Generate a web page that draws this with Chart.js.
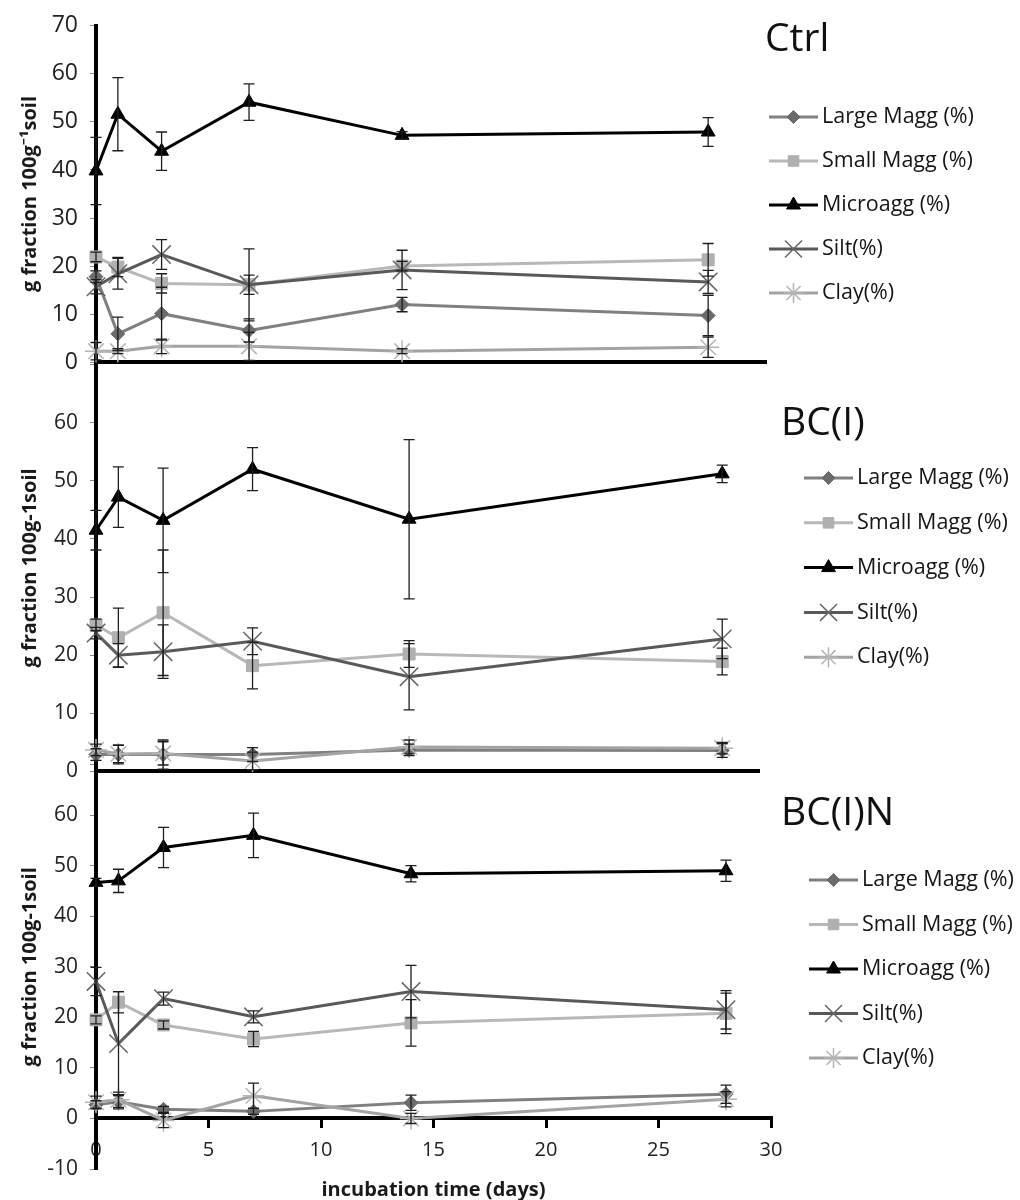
<!DOCTYPE html>
<html>
<head>
<meta charset="utf-8">
<title>Aggregate fractions during incubation</title>
<script src="https://cdn.jsdelivr.net/npm/chart.js"></script>
<style>
  body { margin: 0; background: #fff; }
  #wrap { position: relative; width: 1020px; height: 1200px; }
  canvas { position: absolute; left: 0; }
</style>
</head>
<body>
<div id="wrap">
  <canvas id="ctrl" width="1020" height="388" style="top:0px"></canvas>
  <canvas id="bci" width="1020" height="456" style="top:340px"></canvas>
  <canvas id="bcin" width="1020" height="460" style="top:740px"></canvas>
</div>
<script>
// incubation days (x values, shared by all panels)
const days = [0, 1, 3, 7, 14, 28];
const seriesNames = ['Large Magg (%)', 'Small Magg (%)', 'Microagg (%)', 'Silt(%)', 'Clay(%)'];

// Ctrl
const ctrlLarge = [17.8, 5.9, 10.1, 6.6, 12.0, 9.7];
const ctrlLargeErr = [1.2, 3.5, 5.5, 2.4, 1.5, 4.2];
const ctrlSmall = [21.9, 19.8, 16.4, 16.1, 20.0, 21.3];
const ctrlSmallErr = [1.0, 2.0, 2.0, 2.0, 1.0, 3.4];
const ctrlMicro = [39.8, 51.6, 43.9, 54.1, 47.2, 47.9];
const ctrlMicroErr = [7.0, 7.6, 4.0, 3.8, 0.8, 3.0];
const ctrlSilt = [15.7, 18.4, 22.4, 16.1, 19.2, 16.7];
const ctrlSiltErr = [1.5, 3.2, 3.1, 7.5, 4.1, 2.4];
const ctrlClay = [2.3, 2.3, 3.3, 3.3, 2.3, 3.1];
const ctrlClayErr = [1.8, 0.5, 1.5, 2.9, 0.5, 2.1];

// BC(I)
const bciLarge = [2.9, 2.9, 2.9, 2.9, 3.7, 3.6];
const bciLargeErr = [1.0, 1.6, 2.5, 1.2, 1.0, 1.2];
const bciSmall = [25.2, 23.0, 27.3, 18.2, 20.2, 18.9];
const bciSmallErr = [1.0, 5.1, 10.8, 4.0, 2.3, 2.3];
const bciMicro = [41.5, 47.2, 43.2, 52.0, 43.4, 51.2];
const bciMicroErr = [3.4, 5.2, 9.0, 3.7, 13.7, 1.5];
const bciSilt = [23.8, 20.0, 20.6, 22.4, 16.3, 22.8];
const bciSiltErr = [1.0, 2.0, 4.6, 2.3, 5.7, 3.4];
const bciClay = [3.7, 3.0, 3.1, 1.8, 4.2, 4.0];
const bciClayErr = [1.0, 1.5, 2.0, 1.5, 1.2, 1.0];

// BC(I)N
const bcinLarge = [2.7, 3.3, 1.8, 1.4, 3.1, 4.8];
const bcinLargeErr = [0.8, 1.4, 0.6, 0.6, 1.5, 1.8];
const bcinSmall = [19.5, 23.0, 18.5, 15.7, 18.9, 20.8];
const bcinSmallErr = [0.8, 2.1, 0.8, 1.5, 4.6, 4.0];
const bcinMicro = [46.7, 47.0, 53.6, 56.0, 48.4, 49.0];
const bcinMicroErr = [0.8, 2.3, 4.0, 4.4, 1.6, 2.1];
const bcinSilt = [27.1, 14.8, 23.7, 20.1, 25.1, 21.5];
const bcinSiltErr = [2.8, 10.3, 1.3, 1.2, 5.2, 3.8];
const bcinClay = [3.2, 3.7, -0.4, 4.5, 0.0, 3.8];
const bcinClayErr = [1.2, 1.5, 1.4, 2.5, 1.0, 1.5];

// look of each series (same order as seriesNames)
const seriesStyle = [
  { line: '#808080', point: '#6b6b6b', shape: 'rectRot', r: 7, lr: 6.5, bw: 1, order: 5 },
  { line: '#b8b8b8', point: '#b0b0b0', shape: 'rect', r: 8.5, lr: 7.5, bw: 1, order: 4 },
  { line: '#000000', point: '#000000', shape: 'triangle', r: 8, lr: 8, bw: 1, order: 3 },
  { line: '#595959', point: '#666666', shape: 'crossRot', r: 13, lr: 12, bw: 1.5, order: 2 },
  { line: '#a3a3a3', point: '#b5b5b5', shape: 'star', r: 11, lr: 10, bw: 1.5, order: 1 }
];

const FONT = '"Open Sans", "Noto Sans", sans-serif';

// error bars drawn from each dataset's errors array
const errorBars = {
  id: 'errorBars',
  afterDatasetsDraw(chart) {
    const ctx = chart.ctx;
    const ys = chart.scales.y;
    ctx.save();
    ctx.strokeStyle = '#1e1e1e';
    ctx.lineWidth = 1.3;
    chart.data.datasets.forEach((ds, i) => {
      const meta = chart.getDatasetMeta(i);
      meta.data.forEach((pt, j) => {
        const v = ds.data[j].y, e = ds.errors[j];
        const t = ys.getPixelForValue(v + e), b = ys.getPixelForValue(v - e);
        ctx.beginPath();
        ctx.moveTo(pt.x, t); ctx.lineTo(pt.x, b);
        ctx.moveTo(pt.x - 5.5, t); ctx.lineTo(pt.x + 5.5, t);
        ctx.moveTo(pt.x - 5.5, b); ctx.lineTo(pt.x + 5.5, b);
        ctx.stroke();
      });
    });
    ctx.restore();
  }
};

// panel title + line-with-marker legend on the right, x title for bottom panel
const panelLegend = {
  id: 'panelLegend',
  afterDraw(chart, args, o) {
    const ctx = chart.ctx;
    ctx.save();
    ctx.textBaseline = 'middle';
    ctx.textAlign = 'left';
    ctx.fillStyle = '#111';
    ctx.font = '39px ' + FONT;
    ctx.fillText(o.title, o.titleX, o.titleY);
    ctx.font = '21.5px ' + FONT;
    chart.data.datasets.forEach((ds, i) => {
      const y = o.rowY + i * o.rowGap;
      const st = seriesStyle[i];
      ctx.strokeStyle = st.line;
      ctx.lineWidth = 3;
      ctx.beginPath();
      ctx.moveTo(o.lineX, y); ctx.lineTo(o.lineX + 49, y);
      ctx.stroke();
      ctx.fillStyle = st.point;
      ctx.strokeStyle = st.point;
      ctx.lineWidth = st.bw;
      Chart.helpers.drawPoint(ctx, { pointStyle: st.shape, radius: st.lr, borderWidth: st.bw, rotation: 0 }, o.lineX + 24.5, y);
      ctx.fillStyle = '#151515';
      ctx.fillText(ds.label, o.lineX + 53, y);
    });
    if (o.xTitle) {
      const a = chart.chartArea;
      ctx.font = 'bold 20px ' + FONT;
      ctx.textAlign = 'center';
      ctx.fillStyle = '#1a1a1a';
      ctx.fillText(o.xTitle, (a.left + a.right) / 2, a.bottom + 21);
    }
    ctx.restore();
  }
};

function makeDatasets(means, errs) {
  return means.map((m, i) => {
    const st = seriesStyle[i];
    return {
      label: seriesNames[i],
      data: days.map((d, j) => ({ x: d, y: m[j] })),
      errors: errs[i],
      borderColor: st.line,
      borderWidth: 3,
      pointStyle: st.shape,
      pointRadius: st.r,
      pointBackgroundColor: st.point,
      pointBorderColor: st.point,
      pointBorderWidth: st.bw,
      tension: 0,
      clip: false,
      order: st.order
    };
  });
}

function makePanel(id, means, errs, p) {
  new Chart(document.getElementById(id), {
    type: 'line',
    data: { datasets: makeDatasets(means, errs) },
    options: {
      responsive: false,
      animation: false,
      events: [],
      layout: { padding: { left: 0, right: p.padRight, top: p.padTop, bottom: p.padBottom } },
      scales: {
        x: {
          type: 'linear',
          position: { y: 0 },
          min: 0,
          max: p.xMax,
          afterFit: s => { s.height = 0; },
          border: { display: true, color: '#000', width: 4 },
          grid: { display: p.xTicks, drawOnChartArea: false, drawTicks: p.xTicks, tickLength: 8, lineWidth: 3, color: '#000' },
          ticks: { display: p.xTicks, stepSize: 5, padding: 12, color: '#222', font: { family: FONT, size: 20 } }
        },
        y: {
          min: p.yMin,
          max: p.yMax,
          afterFit: s => { s.width = 96; },
          border: { display: true, color: '#000', width: 4 },
          grid: { drawOnChartArea: false, drawTicks: true, tickLength: 6, lineWidth: 1, color: '#8a8a8a' },
          ticks: {
            stepSize: 10,
            padding: 12,
            color: '#222',
            font: { family: FONT, size: p.tickSize },
            callback: v => (p.hideTop && v === p.yMax) ? '' : v
          },
          title: {
            display: true,
            text: p.yTitle,
            color: '#1a1a1a',
            padding: { top: 18, bottom: 0 },
            font: { family: FONT, size: 20, weight: 'bold' }
          }
        }
      },
      plugins: {
        legend: { display: false },
        tooltip: { enabled: false },
        panelLegend: p.legend
      }
    },
    plugins: [errorBars, panelLegend]
  });
}

makePanel('ctrl',
  [ctrlLarge, ctrlSmall, ctrlMicro, ctrlSilt, ctrlClay],
  [ctrlLargeErr, ctrlSmallErr, ctrlMicroErr, ctrlSiltErr, ctrlClayErr],
  { padTop: 25, padBottom: 12, padRight: 255, xMax: 30.6, yMin: 0, yMax: 70, hideTop: false,
    xTicks: false, tickSize: 23, yTitle: 'g fraction 100g\u207B\u00B9soil',
    legend: { title: 'Ctrl', titleX: 765, titleY: 40, lineX: 769, rowY: 117, rowGap: 44 } });

makePanel('bci',
  [bciLarge, bciSmall, bciMicro, bciSilt, bciClay],
  [bciLargeErr, bciSmallErr, bciMicroErr, bciSiltErr, bciClayErr],
  { padTop: 22, padBottom: 14, padRight: 262, xMax: 29.6, yMin: 0, yMax: 70, hideTop: true,
    xTicks: false, tickSize: 21, yTitle: 'g fraction 100g-1soil',
    legend: { title: 'BC(I)', titleX: 781, titleY: 84, lineX: 804, rowY: 138, rowGap: 44.8 } });

makePanel('bcin',
  [bcinLarge, bcinSmall, bcinMicro, bcinSilt, bcinClay],
  [bcinLargeErr, bcinSmallErr, bcinMicroErr, bcinSiltErr, bcinClayErr],
  { padTop: 24, padBottom: 31, padRight: 249, xMax: 30, yMin: -10, yMax: 70, hideTop: true,
    xTicks: true, tickSize: 21, yTitle: 'g fraction 100g-1soil',
    legend: { title: 'BC(I)N', titleX: 781, titleY: 74, lineX: 809, rowY: 140, rowGap: 44.5,
      xTitle: 'incubation time (days)' } });
</script>
</body>
</html>
